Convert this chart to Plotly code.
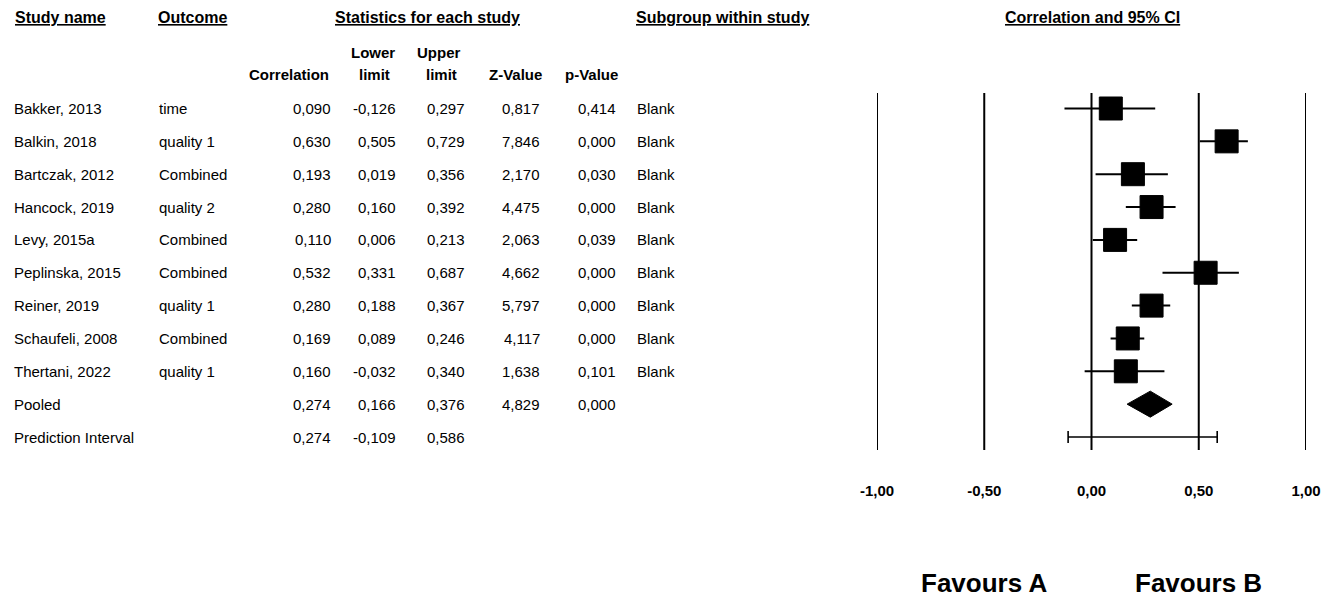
import plotly.graph_objects as go

# ---------------- data ----------------
studies = ["Bakker, 2013", "Balkin, 2018", "Bartczak, 2012", "Hancock, 2019", "Levy, 2015a",
           "Peplinska, 2015", "Reiner, 2019", "Schaufeli, 2008", "Thertani, 2022"]
outcomes = ["time", "quality 1", "Combined", "quality 2", "Combined", "Combined",
            "quality 1", "Combined", "quality 1"]
corr = [0.090, 0.630, 0.193, 0.280, 0.110, 0.532, 0.280, 0.169, 0.160]
lower = [-0.126, 0.505, 0.019, 0.160, 0.006, 0.331, 0.188, 0.089, -0.032]
upper = [0.297, 0.729, 0.356, 0.392, 0.213, 0.687, 0.367, 0.246, 0.340]
zval = [0.817, 7.846, 2.170, 4.475, 2.063, 4.662, 5.797, 4.117, 1.638]
pval = [0.414, 0.000, 0.030, 0.000, 0.039, 0.000, 0.000, 0.000, 0.101]
subgroup = ["Blank"] * 9

pooled_label = "Pooled"
pooled_corr, pooled_lower, pooled_upper, pooled_z, pooled_p = 0.274, 0.166, 0.376, 4.829, 0.000
pi_label = "Prediction Interval"
pi_corr, pi_lower, pi_upper = 0.274, -0.109, 0.586

tick_vals = [-1.0, -0.5, 0.0, 0.5, 1.0]
tick_text = ["-1,00", "-0,50", "0,00", "0,50", "1,00"]
favours = ["Favours A", "Favours B"]
favours_x = [-0.5, 0.5]

# ---------------- layout constants ----------------
W, H = 1338, 598
ROW0, PITCH = 108.5, 32.85
def row_of_px(p):
    return (p - ROW0) / PITCH
def px(x):
    return x / W
def fmt(v):
    return f"{v:.3f}".replace(".", ",")

FONT = "Liberation Sans, Arial, sans-serif"
n = len(studies)
pooled_row = n
pi_row = n + 1

fig = go.Figure()

# reference vertical lines
for t in tick_vals:
    fig.add_shape(type="line", xref="x", yref="y", x0=t, x1=t,
                  y0=row_of_px(93), y1=row_of_px(450),
                  line=dict(color="black", width=2), layer="below")

# study boxes with CIs
rows = list(range(n))
fig.add_trace(go.Scatter(
    x=corr, y=rows, mode="markers",
    marker=dict(symbol="square", size=23, color="black", line=dict(color="black", width=1)),
    error_x=dict(type="data", symmetric=False,
                 array=[u - c for u, c in zip(upper, corr)],
                 arrayminus=[c - l for c, l in zip(corr, lower)],
                 width=0, thickness=2, color="black"),
    showlegend=False, hoverinfo="skip"))

# pooled diamond
dh = 13 / PITCH
fig.add_trace(go.Scatter(
    x=[pooled_lower, pooled_corr, pooled_upper, pooled_corr, pooled_lower],
    y=[pooled_row, pooled_row - dh, pooled_row, pooled_row + dh, pooled_row],
    mode="lines", fill="toself", fillcolor="black", line=dict(color="black", width=1),
    showlegend=False, hoverinfo="skip"))

# prediction interval
fig.add_trace(go.Scatter(
    x=[pi_corr], y=[pi_row], mode="markers",
    marker=dict(size=1, color="rgba(0,0,0,0)"),
    error_x=dict(type="data", symmetric=False, array=[pi_upper - pi_corr],
                 arrayminus=[pi_corr - pi_lower], width=6, thickness=1.6, color="black"),
    showlegend=False, hoverinfo="skip"))

ann = []
def add_text(text, x_px, row, anchor="left", size=15, bold=False):
    t = f"<b>{text}</b>" if bold else text
    ann.append(dict(text=t, x=px(x_px), y=row, xref="paper", yref="y",
                    xanchor=anchor, yanchor="middle", showarrow=False,
                    font=dict(family=FONT, size=size, color="black")))

# headers
hrow = row_of_px(17)
add_text("<u>Study name</u>", 13, hrow, "left", 16, True)
add_text("<u>Outcome</u>", 156, hrow, "left", 16, True)
add_text("<u>Statistics for each study</u>", 427, hrow, "center", 16, True)
add_text("<u>Subgroup within study</u>", 634, hrow, "left", 16, True)
add_text("<u>Correlation and 95% CI</u>", 1092, hrow, "center", 16, True)

h1 = row_of_px(52)
h2 = row_of_px(74)
add_text("Correlation", 331, h2, "right", 15, True)
add_text("Lower", 373, h1, "center", 15, True)
add_text("limit", 374, h2, "center", 15, True)
add_text("Upper", 439, h1, "center", 15, True)
add_text("limit", 441, h2, "center", 15, True)
add_text("Z-Value", 544, h2, "right", 15, True)
add_text("p-Value", 620, h2, "right", 15, True)

cols_right = [333, 398, 467, 542, 618]
for i in range(n):
    add_text(studies[i], 12, i)
    add_text(outcomes[i], 157, i)
    for xr, v in zip(cols_right, [corr[i], lower[i], upper[i], zval[i], pval[i]]):
        add_text(fmt(v), xr, i, "right")
    add_text(subgroup[i], 635, i)

add_text(pooled_label, 12, pooled_row)
for xr, v in zip(cols_right, [pooled_corr, pooled_lower, pooled_upper, pooled_z, pooled_p]):
    add_text(fmt(v), xr, pooled_row, "right")
add_text(pi_label, 12, pi_row)
for xr, v in zip(cols_right[:3], [pi_corr, pi_lower, pi_upper]):
    add_text(fmt(v), xr, pi_row, "right")

# favours labels
for lab, xv in zip(favours, favours_x):
    ann.append(dict(text=f"<b>{lab}</b>", x=xv, y=row_of_px(583), xref="x", yref="y",
                    xanchor="center", yanchor="middle", showarrow=False,
                    font=dict(family=FONT, size=26, color="black")))

x0p, x1p = 877 / W, 1306 / W
fig.update_layout(
    width=W, height=H, margin=dict(l=0, r=0, t=0, b=0, autoexpand=False),
    paper_bgcolor="white", plot_bgcolor="white",
    annotations=ann,
    xaxis=dict(domain=[x0p, x1p], range=[-1, 1], anchor="free", automargin=False,
               position=1 - 480 / H, showgrid=False, zeroline=False, showline=False,
               ticks="", tickvals=tick_vals, ticktext=[f"<b>{t}</b>" for t in tick_text],
               tickfont=dict(family=FONT, size=15, color="black")),
    yaxis=dict(domain=[0, 1], range=[row_of_px(H), row_of_px(0)], visible=False,
               automargin=False, showgrid=False, zeroline=False),
)

fig.write_html("out.html")
